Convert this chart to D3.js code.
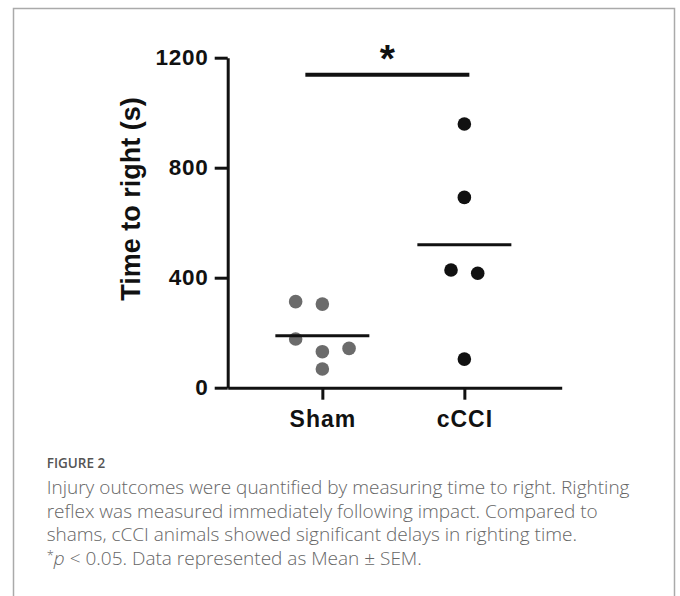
<!DOCTYPE html>
<html lang="en">
<head>
    <meta charset="utf-8" />
    <title>Time to right</title>
    <script src="https://d3js.org/d3.v7.min.js"></script>
    <style>
        body { margin: 0; background: #fff; }
        .axis path, .axis line { stroke: #111; stroke-width: 3px; }
        .axis text { font-family: "Liberation Sans", Arial, sans-serif; font-weight: bold; fill: #111; }
        .caption { font-family: "Open Sans", sans-serif; font-weight: 300; fill: #666; }
    </style>
</head>
<body>
<script>
    // ---- data ----
    var groups = ["Sham", "cCCI"];
    var shamValues = [313, 304, 177, 131, 143, 68];
    var shamLanes = [-1, 0, -1, 0, 1, 0];       // horizontal spread of the dots
    var ccciValues = [959, 692, 428, 416, 104];
    var ccciLanes = [0, 0, -0.5, 0.5, 0];
    var yTicks = [0, 400, 800, 1200];
    var sigLevel = 1138;
    var captionLines = [
        "Injury outcomes were quantified by measuring time to right. Righting",
        "reflex was measured immediately following impact. Compared to",
        "shams, cCCI animals showed significant delays in righting time."
    ];

    var width = 680, height = 596;
    var svg = d3.select("body").append("svg")
        .attr("width", width)
        .attr("height", height);

    // frame round the figure
    svg.append("path")
        .attr("d", "M13.5,600 V8.5 H674.5 V600")
        .attr("fill", "none")
        .attr("stroke", "#aaa")
        .attr("stroke-width", 1.5);

    var y = d3.scaleLinear().domain([0, 1200]).range([387.7, 57.7]);
    var x = d3.scalePoint().domain(groups).range([227.7, 561.7])
        .padding(0.676).align(0.493);
    var lane = d3.scaleLinear().domain([-1, 1]).range([-26.7, 26.7]);

    // axes
    var yAxis = svg.append("g").attr("class", "axis")
        .attr("transform", "translate(227.7,0)")
        .call(d3.axisLeft(y).tickValues(yTicks).tickFormat(d3.format("d"))
            .tickSize(13).tickSizeOuter(0).tickPadding(6));
    yAxis.selectAll("text").style("font-size", "22.5px").style("letter-spacing", "0.8px");

    var xAxis = svg.append("g").attr("class", "axis")
        .attr("transform", "translate(0,387.7)")
        .call(d3.axisBottom(x).tickSize(12).tickSizeOuter(0).tickPadding(11));
    xAxis.selectAll("text").style("font-size", "23px").style("letter-spacing", "1px");

    svg.append("text")
        .attr("transform", "translate(140,199) rotate(-90)")
        .attr("text-anchor", "middle")
        .style("font-family", "Liberation Sans, Arial, sans-serif")
        .style("font-weight", "bold")
        .style("font-size", "27px")
        .attr("fill", "#111")
        .text("Time to right (s)");

    // dots
    function drawGroup(name, values, lanes, color) {
        svg.append("g").selectAll("circle")
            .data(values)
            .enter().append("circle")
            .attr("cx", function (d, i) { return x(name) + lane(lanes[i]); })
            .attr("cy", function (d) { return y(d); })
            .attr("r", 6.8)
            .attr("fill", color);

        var m = d3.mean(values);
        svg.append("line")
            .attr("x1", x(name) - 47).attr("x2", x(name) + 47)
            .attr("y1", y(m)).attr("y2", y(m))
            .attr("stroke", "#111").attr("stroke-width", 3);
    }
    drawGroup("Sham", shamValues, shamLanes, "#6b6b6b");
    drawGroup("cCCI", ccciValues, ccciLanes, "#111");

    // significance bar
    svg.append("line")
        .attr("x1", x("Sham") - 17).attr("x2", x("cCCI") + 5)
        .attr("y1", y(sigLevel)).attr("y2", y(sigLevel))
        .attr("stroke", "#111").attr("stroke-width", 4);
    svg.append("text")
        .attr("x", (x("Sham") - 17 + x("cCCI") + 5) / 2)
        .attr("y", 72)
        .attr("text-anchor", "middle")
        .style("font-family", "Liberation Sans, Arial, sans-serif")
        .style("font-weight", "bold")
        .style("font-size", "39px")
        .attr("fill", "#111")
        .text("*");

    // caption
    svg.append("text")
        .attr("x", 46.7).attr("y", 468)
        .style("font-family", "Open Sans, sans-serif")
        .style("font-weight", 600)
        .style("font-size", "13.5px")
        .attr("fill", "#555")
        .text("FIGURE 2");

    var cap = svg.append("g").attr("class", "caption").style("font-size", "19px");
    captionLines.forEach(function (t, i) {
        cap.append("text").attr("x", 46.7).attr("y", 494 + i * 23.5).text(t);
    });
    var last = cap.append("text").attr("x", 46.7).attr("y", 494 + 3 * 23.5);
    last.append("tspan").attr("dy", -5).style("font-size", "13px").text("*");
    last.append("tspan").attr("dy", 5).style("font-style", "italic").text("p");
    last.append("tspan").text(" < 0.05. Data represented as Mean \u00b1 SEM.");
</script>
</body>
</html>
